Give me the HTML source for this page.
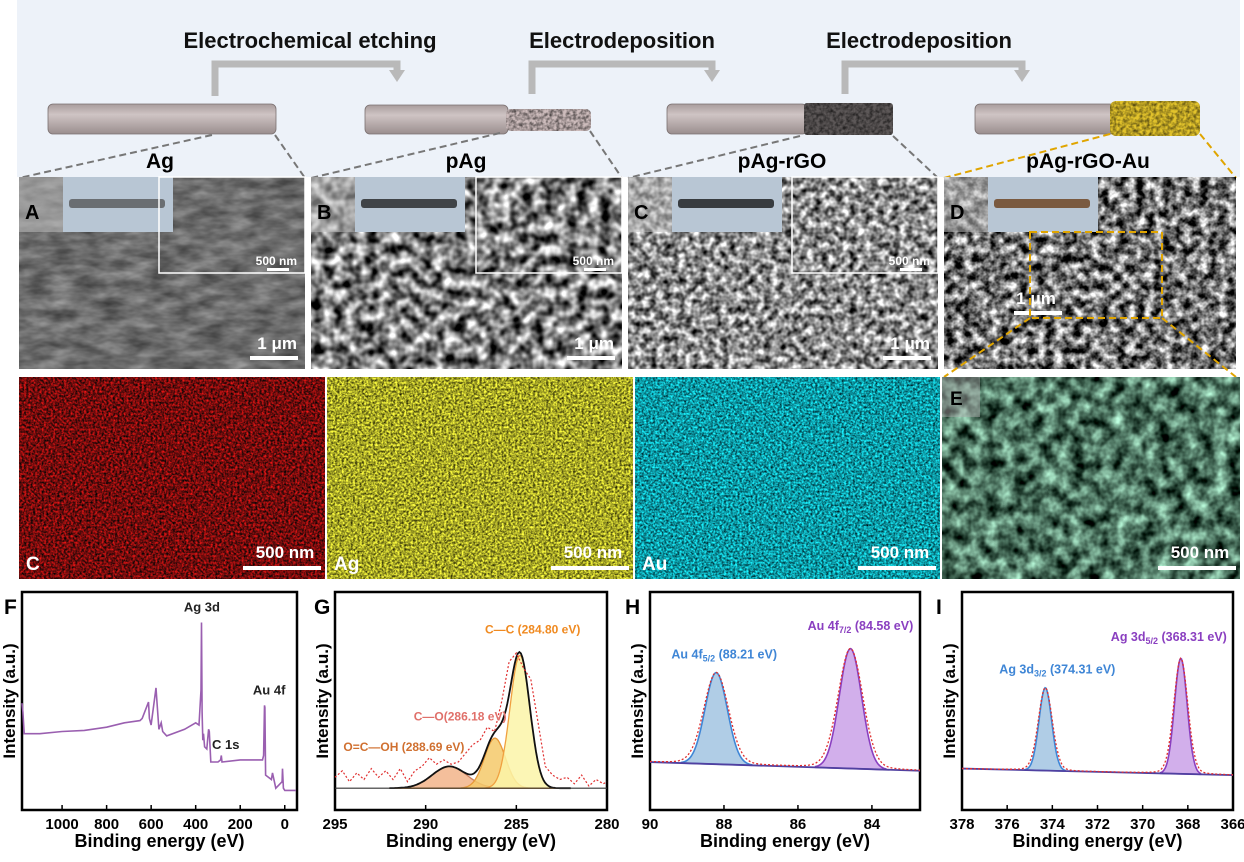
<!DOCTYPE html>
<html><head><meta charset="utf-8"><style>
html,body{margin:0;padding:0;background:#fff}
svg{display:block}
text{font-family:"Liberation Sans",Arial,sans-serif;font-weight:bold}
</style></head><body>
<svg id="fig" width="1244" height="862" viewBox="0 0 1244 862" xmlns="http://www.w3.org/2000/svg">
<defs>
<filter id="semA" x="0" y="0" width="100%" height="100%" color-interpolation-filters="sRGB"><feTurbulence type="fractalNoise" baseFrequency="0.04 0.1" numOctaves="3" seed="2"/><feColorMatrix type="matrix" values="0.45 0 0 0 0.2  0.45 0 0 0 0.2  0.45 0 0 0 0.2  0 0 0 0 1"/></filter>
<filter id="semB" x="0" y="0" width="100%" height="100%" color-interpolation-filters="sRGB"><feTurbulence type="fractalNoise" baseFrequency="0.09" numOctaves="2" seed="5"/><feColorMatrix type="matrix" values="1.9 0 0 0 -0.45  1.9 0 0 0 -0.45  1.9 0 0 0 -0.45  0 0 0 0 1"/></filter>
<filter id="semC" x="0" y="0" width="100%" height="100%" color-interpolation-filters="sRGB"><feTurbulence type="fractalNoise" baseFrequency="0.14" numOctaves="2" seed="8"/><feColorMatrix type="matrix" values="1.7 0 0 0 -0.3  1.7 0 0 0 -0.3  1.7 0 0 0 -0.3  0 0 0 0 1"/></filter>
<filter id="semD" x="0" y="0" width="100%" height="100%" color-interpolation-filters="sRGB"><feTurbulence type="fractalNoise" baseFrequency="0.11" numOctaves="3" seed="11"/><feColorMatrix type="matrix" values="2.0 0 0 0 -0.55  2.0 0 0 0 -0.55  2.0 0 0 0 -0.55  0 0 0 0 1"/></filter>
<filter id="edsR" x="0" y="0" width="100%" height="100%" color-interpolation-filters="sRGB"><feTurbulence type="fractalNoise" baseFrequency="0.45" numOctaves="3" seed="3"/><feColorMatrix type="matrix" values="1.5 0 0 0 -0.3  0.1 0 0 0 0  0.1 0 0 0 0  0 0 0 0 1"/></filter>
<filter id="edsY" x="0" y="0" width="100%" height="100%" color-interpolation-filters="sRGB"><feTurbulence type="fractalNoise" baseFrequency="0.45" numOctaves="3" seed="4"/><feColorMatrix type="matrix" values="1.5 0 0 0 -0.1  1.5 0 0 0 -0.1  0.4 0 0 0 -0.05  0 0 0 0 1"/></filter>
<filter id="edsC" x="0" y="0" width="100%" height="100%" color-interpolation-filters="sRGB"><feTurbulence type="fractalNoise" baseFrequency="0.45" numOctaves="3" seed="6"/><feColorMatrix type="matrix" values="0.2 0 0 0 -0.05  1.4 0 0 0 -0.1  1.45 0 0 0 -0.08  0 0 0 0 1"/></filter>
<filter id="semE" x="0" y="0" width="100%" height="100%" color-interpolation-filters="sRGB"><feTurbulence type="fractalNoise" baseFrequency="0.07" numOctaves="3" seed="9"/><feColorMatrix type="matrix" values="1.2 0 0 0 -0.3  1.5 0 0 0 -0.3  1.35 0 0 0 -0.3  0 0 0 0 1"/></filter>
<filter id="tex" x="0" y="0" width="100%" height="100%" color-interpolation-filters="sRGB"><feTurbulence type="fractalNoise" baseFrequency="0.3" numOctaves="2" seed="1"/><feColorMatrix type="matrix" values="0 0 0 0 0  0 0 0 0 0  0 0 0 0 0  1.2 0 0 0 -0.4"/><feComposite in2="SourceGraphic" operator="in"/></filter>
<linearGradient id="wire" x1="0" y1="0" x2="0" y2="1"><stop offset="0" stop-color="#a89c9c"/><stop offset="0.35" stop-color="#cfc4c4"/><stop offset="1" stop-color="#9a8e8e"/></linearGradient>
</defs>

<rect x="17" y="0" width="1223" height="177" fill="#edf2f9"/>
<g fill="none" stroke="#b9b9b9" stroke-width="7">
<polyline points="215,96 215,64 397,64 397,72"/>
<polyline points="532,94 532,64 712,64 712,72"/>
<polyline points="845,94 845,64 1022,64 1022,72"/>
</g>
<g fill="#b9b9b9"><polygon points="389,70 405,70 397,82"/><polygon points="704,70 720,70 712,82"/><polygon points="1014,70 1030,70 1022,82"/></g>
<text x="310" y="48" font-size="22" text-anchor="middle" fill="#111">Electrochemical etching</text>
<text x="622" y="48" font-size="22" text-anchor="middle" fill="#111">Electrodeposition</text>
<text x="919" y="48" font-size="22" text-anchor="middle" fill="#111">Electrodeposition</text>

<g><rect x="48" y="104" width="228" height="30" rx="5" fill="url(#wire)" stroke="#7a7070" stroke-width="0.8"/></g>
<g><rect x="365" y="105" width="143" height="29" rx="5" fill="url(#wire)" stroke="#7a7070" stroke-width="0.8"/><rect x="506" y="109" width="85" height="22" rx="5" fill="#cdbcbc"/><rect x="506" y="109" width="85" height="22" rx="5" fill="#cdbcbc" filter="url(#tex)"/></g>
<g><rect x="667" y="104" width="140" height="30" rx="5" fill="url(#wire)" stroke="#7a7070" stroke-width="0.8"/><rect x="804" y="103" width="89" height="32" rx="3" fill="#5d5858"/><rect x="804" y="103" width="89" height="32" rx="3" fill="#5d5858" filter="url(#tex)"/></g>
<g><rect x="975" y="104" width="140" height="30" rx="5" fill="url(#wire)" stroke="#7a7070" stroke-width="0.8"/><rect x="1110" y="101" width="90" height="35" rx="6" fill="#e2c32c"/><rect x="1110" y="101" width="90" height="35" rx="6" fill="#e2c32c" filter="url(#tex)"/></g>

<g stroke="#777" stroke-width="2" stroke-dasharray="7 4" fill="none">
<line x1="212" y1="135" x2="19" y2="178"/><line x1="275" y1="135" x2="305" y2="178"/>
<line x1="500" y1="133" x2="311" y2="178"/><line x1="590" y1="131" x2="622" y2="178"/>
<line x1="800" y1="136" x2="628" y2="178"/><line x1="893" y1="136" x2="938" y2="178"/>
</g>
<g stroke="#e0a500" stroke-width="2" stroke-dasharray="7 4" fill="none"><line x1="1110" y1="134" x2="944" y2="178"/><line x1="1200" y1="134" x2="1236" y2="178"/></g>
<text x="160" y="168" font-size="21" text-anchor="middle">Ag</text>
<text x="466" y="168" font-size="21" text-anchor="middle">pAg</text>
<text x="782" y="168" font-size="21" text-anchor="middle">pAg-rGO</text>
<text x="1088" y="168" font-size="21" text-anchor="middle">pAg-rGO-Au</text>

<g id="sem"></g>
<g id="eds"></g>
<g id="charts"></g>
</svg>
<script>
const NS='http://www.w3.org/2000/svg';
const svg=document.getElementById('fig');
function mk(tag,attrs,parent){const e=document.createElementNS(NS,tag);for(const k in attrs)e.setAttribute(k,attrs[k]);(parent||svg).appendChild(e);return e;}
function txt(parent,x,y,s,size,fill,anchor){const t=mk('text',{x:x,y:y,'font-size':size,fill:fill||'#000','text-anchor':anchor||'start'},parent);t.textContent=s;return t;}

// ---------- SEM panels ----------
const semG=document.getElementById('sem');
const semLetters=['A','B','C','D'];
const semX=[19,311,628,944];
const semW=[286,311,310,292];
const semF=['semA','semB','semC','semD'];
for(let i=0;i<4;i++){
  const x=semX[i],y=177,w=semW[i],h=192;
  const g=mk('g',{},semG);
  
  
  mk('rect',{x:x,y:y,width:w,height:h,fill:'#666'},g);
  mk('rect',{x:x,y:y,width:w,height:h,filter:'url(#'+semF[i]+')'},g);
  mk('rect',{x:x,y:y,width:44,height:55,fill:'#bbb','fill-opacity':0.55},g);
  const ph=mk('rect',{x:x+44,y:y,width:110,height:55,fill:'#b8c6d4'},g);
  
  
  const rodC=['#6a6e72','#404448','#383c40','#7a5a40'][i];
  mk('rect',{x:x+50,y:y+22,width:96,height:9,rx:3,fill:rodC},g);
  if(i<3){
    const ins=mk('rect',{x:x+w-146,y:y,width:146,height:96,fill:'none',stroke:'#fff','stroke-width':1.5},g);
    
    
    txt(g,x+w-8,y+88,'500 nm',12,'#fff','end');
    mk('rect',{x:x+w-38,y:y+91,width:22,height:3,fill:'#fff'},g);
  }
  txt(g,x+6,y+42,semLetters[i],20,'#000');
  if(i<3){txt(g,x+w-8,y+172,'1 μm',17,'#fff','end');mk('rect',{x:x+w-55,y:y+179,width:48,height:4,fill:'#fff'},g);}
  else{txt(g,x+92,y+127,'1 μm',17,'#fff','middle');mk('rect',{x:x+70,y:y+134,width:48,height:4,fill:'#fff'},g);}
}
const dz=mk('rect',{x:1030,y:232,width:132,height:86,fill:'none',stroke:'#e0a500','stroke-width':2,'stroke-dasharray':'7 4'},semG);


mk('line',{x1:1030,y1:318,x2:944,y2:377,stroke:'#e0a500','stroke-width':2,'stroke-dasharray':'7 4'},semG);
mk('line',{x1:1162,y1:318,x2:1236,y2:377,stroke:'#e0a500','stroke-width':2,'stroke-dasharray':'7 4'},semG);

// ---------- EDS row ----------
const edsG=document.getElementById('eds');
const edsLab=['C','Ag','Au','E'];
const edsX=[19,327,635,942];
const edsW=[306,306,305,298];
const edsBase=['#5a0606','#7a7a10','#107a80','#3a4a42'];
const edsFil=['edsR','edsY','edsC','semE'];
for(let i=0;i<4;i++){
  const x=edsX[i],y=377,w=edsW[i],h=202;
  const g=mk('g',{},edsG);
  
  
  mk('rect',{x:x,y:y,width:w,height:h,fill:edsBase[i]},g);
  mk('rect',{x:x,y:y,width:w,height:h,filter:'url(#'+edsFil[i]+')'},g);
  if(i<3){txt(g,x+7,y+193,edsLab[i],19,'#fff');}
  else{mk('rect',{x:x,y:y,width:38,height:40,fill:'#aaa','fill-opacity':0.5},g);txt(g,x+8,y+28,'E',19,'#000');}
  txt(g,x+w-40,y+181,'500 nm',17,'#fff','middle');
  mk('rect',{x:x+w-82,y:y+189,width:78,height:4,fill:'#fff'},g);
}

// ---------- Chart data ----------
const surveyE=[1180,1176,1170,1100,1000,900,800,720,650,640,612,608,600,578,574,565,555,548,530,450,400,385,376,374,371,368,365,360,350,342,339,332,300,288,285,282,200,100,95,91,89,86,60,55,40,12,10,6,0,-50];
const surveyI=[49,45,35,35,36,36.5,38,40,41,42,49.5,42,39,56,50,37,40,36,34,37,40,39,55,86,45,32,35,29,28,37,36,22,22,23,25,22,23,23,25,48,47,16,14,17,10,13,19,10,9,9];
const cPeakCenters=[284.80,286.18,288.69];
const cPeakHeights=[61,23,10];
const cPeakSigma=[0.55,0.58,0.95];
const cPeakLabels=['C—C (284.80 eV)','C—O(286.18 eV)','O=C—OH (288.69 eV)'];
const cRawE=[295,294.6,294.2,293.8,293.4,293,292.6,292.2,291.8,291.4,291,290.6,290.2,289.8,289.4,289,288.6,288.2,287.8,287.4,287,286.6,286.2,285.8,285.4,285,284.6,284.2,283.8,283.4,283,282.6,282.2,281.8,281.4,281,280.6,280.2,280];
const cRawI=[5,8,3,7,4,9,5,8,4,9,3,8,10,14,11,13,11,12,16,20,22,28,26,40,58,62,55,50,30,10,6,4,5,2,6,1,4,2,3];
const auCenters=[88.21,84.58];
const auHeights=[42,55];
const auSigma=[0.3,0.3];
const agCenters=[374.31,368.31];
const agHeights=[38,53];
const agSigma=[0.28,0.28];

const chartsG=document.getElementById('charts');
function makeAxes(o){
  const g=mk('g',{},chartsG);
  
  
  const sx=v=>o.left+(v-o.x0)/(o.x1-o.x0)*(o.right-o.left);
  const sy=v=>o.bottom-v/100*(o.bottom-o.top);
  const frame=mk('rect',{x:o.left,y:o.top,width:o.right-o.left,height:o.bottom-o.top,fill:'none',stroke:'#000','stroke-width':2.5},g);
  
  
  o.ticks.forEach(t=>{
    const X=sx(t);
    mk('line',{x1:X,y1:o.bottom,x2:X,y2:o.bottom-5,stroke:'#000','stroke-width':1.5},g);
    const tl=txt(g,X,o.bottom+19,String(t),15,'#000','middle');
    
    
  });
  const xl=txt(g,(o.left+o.right)/2,847,'Binding energy (eV)',18,'#000','middle');
  
  
  const yl=txt(g,0,0,'Intensity (a.u.)',17,'#000','middle');
  yl.setAttribute('transform','translate('+(o.left-7)+','+((o.top+o.bottom)/2)+') rotate(-90)');
  
  
  const pl=txt(g,o.letterX,614,o.id.toUpperCase(),21,'#000');
  
  
  return {g,sx,sy};
}
function pathFrom(xs,ys,sx,sy){return xs.map((x,i)=>(i?'L':'M')+sx(x).toFixed(1)+','+sy(ys[i]).toFixed(1)).join('');}
function gauss(x,c,h,s){return h*Math.exp(-0.5*((x-c)/s)**2);}
function lor(x,c,h,s){return h/(1+((x-c)/(s*1.25))**2);}
function sampleRange(a,b,n){const r=[];for(let i=0;i<=n;i++)r.push(a+(b-a)*i/n);return r;}

(function(){
  const A=makeAxes({id:'f',left:22,right:297,top:592,bottom:810,x0:1180,x1:-55,ticks:[1000,800,600,400,200,0],letterX:4});
  const p=mk('path',{d:pathFrom(surveyE,surveyI,A.sx,A.sy),fill:'none',stroke:'#9a5fb0','stroke-width':1.6},A.g);
  
  
  txt(A.g,A.sx(372),A.sy(91),'Ag 3d',13,'#222','middle');
  txt(A.g,A.sx(70),A.sy(53),'Au 4f',13,'#222','middle');
  txt(A.g,A.sx(265),A.sy(28),'C 1s',13,'#222','middle');
})();

(function(){
  const base=10;
  const A=makeAxes({id:'g',left:335,right:607,top:592,bottom:810,x0:295,x1:280,ticks:[295,290,285,280],letterX:314});
  const xs=sampleRange(292,282,120);
  const fills=['#fcf5a8','#f5c96a','#f2b48a'];
  const strokes=['#f0a040','#e89a3a','#c98060'];
  for(let k=2;k>=0;k--){
    const ys=xs.map(x=>base+gauss(x,cPeakCenters[k],cPeakHeights[k],cPeakSigma[k]));
    const p=mk('path',{d:pathFrom(xs,ys,A.sx,A.sy)+'Z',fill:fills[k],'fill-opacity':0.85,stroke:strokes[k],'stroke-width':1.3},A.g);
    
    
  }
  const env=xs.map(x=>base+cPeakCenters.reduce((s,c,k)=>s+gauss(x,c,cPeakHeights[k],cPeakSigma[k]),0));
  const e=mk('path',{d:pathFrom(xs,env,A.sx,A.sy),fill:'none',stroke:'#111','stroke-width':1.8},A.g);
  
  
  mk('line',{x1:A.sx(295),y1:A.sy(base),x2:A.sx(280),y2:A.sy(base),stroke:'#333','stroke-width':1.2},A.g);
  const r=mk('path',{d:pathFrom(cRawE,cRawI.map(v=>v+base),A.sx,A.sy),fill:'none',stroke:'#e03030','stroke-width':1.2,'stroke-dasharray':'2 2'},A.g);
  
  
  txt(A.g,A.sx(284.1),A.sy(81),cPeakLabels[0],12,'#f08a20','middle');
  txt(A.g,A.sx(288.1),A.sy(41),cPeakLabels[1],12,'#e0706a','middle');
  txt(A.g,A.sx(291.2),A.sy(27),cPeakLabels[2],12,'#d07030','middle');
})();

function doublet(o,centers,heights,sig,labels){
  const A=makeAxes(o);
  const bl=x=>o.b0+(o.b1-o.b0)*(x-o.x0)/(o.x1-o.x0);
  const xs=sampleRange(o.x0,o.x1,300);
  const cols=[['#3f86d6','#9cc0e0'],['#8a3fc0','#c79be6']];
  for(let k=0;k<2;k++){
    const lo=centers[k]-sig[k]*3.2, hi=centers[k]+sig[k]*3.2;
    const seg=xs.filter(x=>x>=Math.min(lo,hi)&&x<=Math.max(lo,hi));
    const ys=seg.map(x=>bl(x)+gauss(x,centers[k],heights[k],sig[k]));
    const d=pathFrom(seg,ys,A.sx,A.sy)+'L'+A.sx(seg[seg.length-1])+','+A.sy(bl(seg[seg.length-1]))+'L'+A.sx(seg[0])+','+A.sy(bl(seg[0]))+'Z';
    const p=mk('path',{d:d,fill:cols[k][1],'fill-opacity':0.8,stroke:cols[k][0],'stroke-width':1.6},A.g);
    
    
  }
  const bline=mk('line',{x1:A.sx(o.x0),y1:A.sy(o.b0),x2:A.sx(o.x1),y2:A.sy(o.b1),stroke:'#5040a0','stroke-width':1.8},A.g);
  
  
  const raw=xs.map(x=>bl(x)+0.12*lor(x,centers[0],heights[0],sig[0])+0.12*lor(x,centers[1],heights[1],sig[1])+0.88*gauss(x,centers[0],heights[0],sig[0]*1.12)+0.88*gauss(x,centers[1],heights[1],sig[1]*1.12));
  const r=mk('path',{d:pathFrom(xs,raw,A.sx,A.sy),fill:'none',stroke:'#e03030','stroke-width':1.3,'stroke-dasharray':'2 2'},A.g);
  
  
  for(let k=0;k<2;k++){
    const t=mk('text',{x:A.sx(centers[k])+o.lo[k],y:A.sy(heights[k]+o.b0)-12,'font-size':12.5,fill:cols[k][0],'text-anchor':'middle'},A.g);
    
    
    t.appendChild(document.createTextNode(labels[k][0]));
    const s=mk('tspan',{'font-size':9,dy:3},t);s.textContent=labels[k][1];
    const r2=mk('tspan',{dy:-3},t);r2.textContent=labels[k][2];
  }
}
doublet({id:'h',left:650,right:920,top:592,bottom:810,x0:90,x1:82.7,ticks:[90,88,86,84],letterX:625,b0:22,b1:18,lo:[8,10]},
  auCenters,auHeights,auSigma,[['Au 4f','5/2',' (88.21 eV)'],['Au 4f','7/2',' (84.58 eV)']]);
doublet({id:'i',left:962,right:1233,top:592,bottom:810,x0:378,x1:366,ticks:[378,376,374,372,370,368,366],letterX:936,b0:19,b1:16,lo:[12,-12]},
  agCenters,agHeights,agSigma,[['Ag 3d','3/2',' (374.31 eV)'],['Ag 3d','5/2',' (368.31 eV)']]);
</script>
</body></html>
